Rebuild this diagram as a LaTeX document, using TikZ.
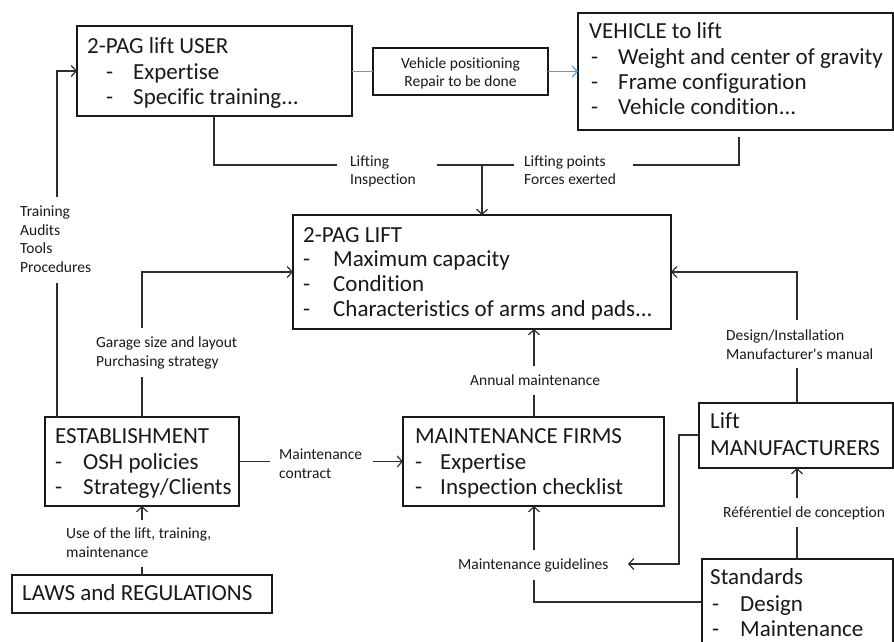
\documentclass[tikz,border=0pt]{standalone}
\usepackage{fontspec}
\setmainfont{Carlito}
\newfontfamily\carl{Carlito}[Ligatures=NoCommon]
\usetikzlibrary{arrows.meta}
\definecolor{ink}{RGB}{25,25,25}
\definecolor{lineink}{RGB}{45,45,45}
\definecolor{blueline}{RGB}{91,155,213}
\begin{document}
\begin{tikzpicture}[x=1pt,y=-1pt,
  box/.style={draw=ink,line width=1.3pt,anchor=north west,inner sep=0pt,outer sep=0pt,fill=white},
  bigbox/.style={box,line width=2.4pt},
  txt/.style={anchor=base west,inner sep=0pt,text=ink,font=\carl\fontsize{23}{25}\selectfont},
  lbl/.style={anchor=base west,inner sep=0pt,text=ink,font=\carl\fontsize{15.5}{18.7}\selectfont},
  conn/.style={draw=lineink,line width=1.2pt},
  arr/.style={conn,-{Straight Barb[length=5pt,width=11pt,line width=1.2pt]}},
  bluearr/.style={draw=blueline,line width=1.2pt},
]
\useasboundingbox (0,0) rectangle (894,641);
\clip (0,0) rectangle (894,641);
\fill[white] (0,0) rectangle (894,641);

% ---------- boxes ----------
\node[box,minimum width=275pt,minimum height=90pt] (user) at (77,26) {};
\node[box,minimum width=175pt,minimum height=47pt] (vpos) at (373,48) {};
\node[box,minimum width=315pt,minimum height=117pt] (veh) at (578,13) {};
\node[bigbox,minimum width=378pt,minimum height=114pt] (lift) at (293,215) {};
\node[box,minimum width=194pt,minimum height=89pt] (estab) at (45,417) {};
\node[box,minimum width=261pt,minimum height=89pt] (maint) at (403,417) {};
\node[box,minimum width=194pt,minimum height=65pt] (manuf) at (699,403) {};
\node[box,minimum width=191pt,minimum height=100pt] (std) at (702,559) {};
\node[box,minimum width=260pt,minimum height=38pt] (laws) at (12,575) {};

% ---------- box texts ----------
\node[txt] (userT) at (87,53) {2-PAG lift USER};
\node[txt] (userD1) at (106,79) {-};
\node[txt] (userL1) at (133,79) {Expertise};
\node[txt] (userD2) at (106,104) {-};
\node[txt] (userL2) at (133,104) {Specific training...};

\node[lbl,anchor=base] (vposL1) at (460.5,68) {Vehicle positioning};
\node[lbl,anchor=base] (vposL2) at (460.5,86) {Repair to be done};

\node[txt] (vehT) at (589,38) {VEHICLE to lift};
\node[txt] (vehD1) at (591,64) {-};
\node[txt] (vehL1) at (618,64) {Weight and center of gravity};
\node[txt] (vehD2) at (591,89) {-};
\node[txt] (vehL2) at (618,89) {Frame configuration};
\node[txt] (vehD3) at (591,114) {-};
\node[txt] (vehL3) at (618,114) {Vehicle condition...};

\node[txt] (liftT) at (303,242) {2-PAG LIFT};
\node[txt] (liftD1) at (303,266) {-};
\node[txt] (liftL1) at (333,266) {Maximum capacity};
\node[txt] (liftD2) at (303,291) {-};
\node[txt] (liftL2) at (333,291) {Condition};
\node[txt] (liftD3) at (303,316) {-};
\node[txt] (liftL3) at (333,316) {Characteristics of arms and pads...};

\node[txt] (estabT) at (55,443) {ESTABLISHMENT};
\node[txt] (estabD1) at (55,469) {-};
\node[txt] (estabL1) at (83,469) {OSH policies};
\node[txt] (estabD2) at (55,494) {-};
\node[txt] (estabL2) at (83,494) {Strategy/Clients};

\node[txt] (maintT) at (415,443) {MAINTENANCE FIRMS};
\node[txt] (maintD1) at (415,469) {-};
\node[txt] (maintL1) at (440,469) {Expertise};
\node[txt] (maintD2) at (415,494) {-};
\node[txt] (maintL2) at (440,494) {Inspection checklist};

\node[txt] (manufT1) at (710,428) {Lift};
\node[txt] (manufT2) at (710,455) {MANUFACTURERS};

\node[txt] (stdT) at (710,584) {Standards};
\node[txt] (stdD1) at (712,611) {-};
\node[txt] (stdL1) at (740,611) {Design};
\node[txt] (stdD2) at (712,636) {-};
\node[txt] (stdL2) at (740,636) {Maintenance};

\node[txt] (lawsT) at (22,600) {LAWS and REGULATIONS};

% ---------- connector labels ----------
\node[lbl] (liL1) at (350,166) {Lifting};
\node[lbl] (liL2) at (350,184) {Inspection};
\node[lbl] (lpL1) at (524,166) {Lifting points};
\node[lbl] (lpL2) at (524,184) {Forces exerted};
\node[lbl] (trL1) at (20,216) {Training};
\node[lbl] (trL2) at (20,235) {Audits};
\node[lbl] (trL3) at (20,253) {Tools};
\node[lbl] (trL4) at (20,272) {Procedures};
\node[lbl] (gaL1) at (96,347) {Garage size and layout};
\node[lbl] (gaL2) at (96,366) {Purchasing strategy};
\node[lbl] (diL1) at (726,340) {Design/Installation};
\node[lbl] (diL2) at (726,359) {Manufacturer's manual};
\node[lbl] (anL) at (470,385) {Annual maintenance};
\node[lbl] (mcL1) at (279,459) {Maintenance};
\node[lbl] (mcL2) at (279,478) {contract};
\node[lbl] (usL1) at (66,538) {Use of the lift, training,};
\node[lbl] (usL2) at (66,557) {maintenance};
\node[lbl] (mgL) at (458,569) {Maintenance guidelines};
\node[lbl] (rcL) at (723,517) {Référentiel de conception};

% ---------- connectors ----------
% user -> vehicle (blue)
\draw[bluearr] (vpos.west -| user.east) -- (vpos.west);
\draw[bluearr,-{Straight Barb[length=5pt,width=11pt,line width=1.2pt]}] (vpos.east) -- (vpos.east -| veh.west);

% user / vehicle -> lift
\coordinate (uA) at (214,165);
\coordinate (uB) at (337,165);
\draw[conn] (uA |- user.south) -- (uA) -- (uB);
\coordinate (mA) at (437,165);
\coordinate (mB) at (514,165);
\draw[conn] (mA) -- (mB);
\coordinate (mArr) at (482,165);
\draw[arr] (mArr) -- (mArr |- lift.north);
\coordinate (vB) at (633,165);
\coordinate (vA) at (739,165);
\coordinate (vTop) at (739,137);
\draw[conn] (vB) -- (vA) -- (vTop);

% establishment -> user (training...)
\coordinate (tA) at (57,197);
\draw[arr] (tA) |- (user.west);
\coordinate (tB) at (57,283);
\draw[conn] (tB) -- (tB |- estab.north);

% establishment -> lift
\coordinate (gA) at (142,328);
\draw[arr] (gA) |- (lift.west);
\coordinate (gB) at (142,377);
\draw[conn] (gB) -- (gB |- estab.north);

% manufacturers -> lift
\coordinate (dA) at (797,320);
\draw[arr] (dA) |- (lift.east);
\coordinate (dB) at (797,368);
\draw[conn] (dB) -- (dB |- manuf.north);

% maintenance firms -> lift
\coordinate (aA) at (534,366);
\draw[arr] (aA) -- (aA |- lift.south);
\coordinate (aB) at (534,395);
\draw[conn] (aB) -- (aB |- maint.north);

% establishment -> maintenance firms
\coordinate (cA) at (270,462);
\draw[conn] (estab.east) -- (estab.east -| cA);
\coordinate (cB) at (373,462);
\draw[arr] (maint.west -| cB) -- (maint.west);

% laws -> establishment
\coordinate (ulA) at (142,520);
\draw[arr] (ulA) -- (ulA |- estab.south);
\coordinate (ulB) at (142,567);
\draw[conn] (ulB) -- (ulB |- laws.north);

% standards -> manufacturers
\coordinate (rA) at (797,498);
\draw[arr] (rA) -- (rA |- manuf.south);
\coordinate (rB) at (797,527);
\draw[conn] (rB) -- (rB |- std.north);

% manufacturers -> maintenance guidelines
\coordinate (gl1) at (679,435);
\coordinate (gl2) at (628,564);
\draw[arr] (gl1 -| manuf.west) -- (gl1) |- (gl2);

% standards -> maintenance firms
\coordinate (sm) at (534,602);
\coordinate (smTop) at (534,580);
\draw[conn] (sm -| std.west) -- (sm) -- (smTop);
\coordinate (smB) at (534,550);
\draw[arr] (smB) -- (smB |- maint.south);
\end{tikzpicture}
\end{document}
